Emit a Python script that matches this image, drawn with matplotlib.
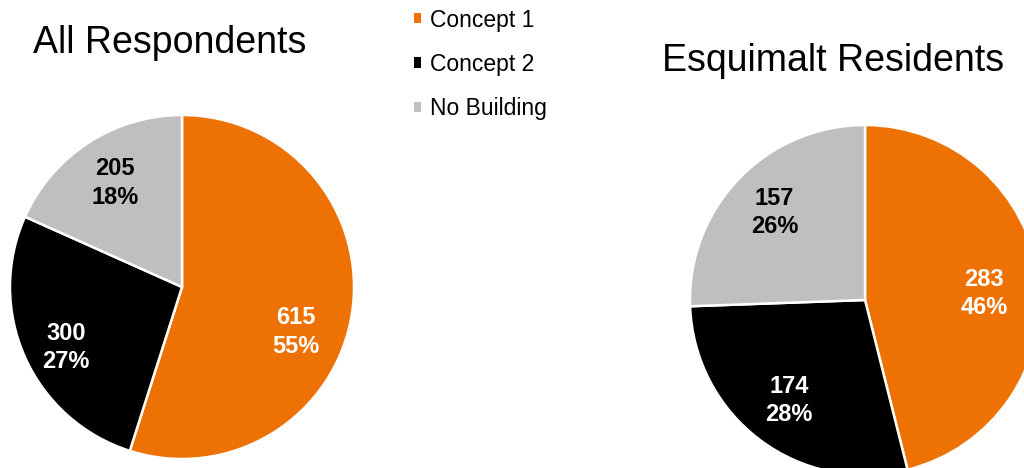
import numpy as np
import matplotlib.pyplot as plt

plt.rcParams['font.family'] = ['Liberation Sans', 'DejaVu Sans']

categories = ['Concept 1', 'Concept 2', 'No Building']
all_resp = [615, 300, 205]
esq_resp = [283, 174, 157]
colors = ['#EE7203', '#000000', '#BFBFBF']
label_colors = ['white', 'white', 'black']

fig = plt.figure(figsize=(10.24, 4.68), dpi=100)
ax = fig.add_axes([0, 0, 1, 1])


def draw_pie(values, center, radius, angle_fix=None):
    wedges, _ = ax.pie(values, colors=colors, startangle=90, counterclock=False,
                       center=center, radius=radius, frame=True,
                       wedgeprops=dict(edgecolor='white', linewidth=1.8))
    total = sum(values)
    for i, (w, v) in enumerate(zip(wedges, values)):
        ang = (w.theta1 + w.theta2) / 2
        dist = 0.72
        if angle_fix and i in angle_fix:
            ang, dist = angle_fix[i]
        x = center[0] + dist * radius * np.cos(np.radians(ang))
        y = center[1] + dist * radius * np.sin(np.radians(ang))
        ax.text(x, y, f'{v}\n{v / total:.0%}', ha='center', va='center',
                fontsize=17, fontweight='bold', color=label_colors[i],
                linespacing=1.3)
    return wedges


wedges = draw_pie(all_resp, (182, 181), 172,
                  angle_fix={0: (-21.7, 0.71), 1: (-152.5, 0.76)})
draw_pie(esq_resp, (865, 168), 175, angle_fix={0: (3, 0.68)})

ax.text(170, 425, 'All Respondents', ha='center', va='center', fontsize=27)
ax.text(833, 407, 'Esquimalt Residents', ha='center', va='center', fontsize=27)

ax.legend(wedges, categories, loc='upper left', bbox_to_anchor=(393 / 1024, 1.0 + 12 / 468),
          frameon=False, fontsize=16.5, handlelength=0.3, handleheight=0.3,
          handletextpad=0.4, labelspacing=0.92)
for h in ax.get_legend().legend_handles:
    h.set_edgecolor('none')

ax.set_xlim(0, 1024)
ax.set_ylim(0, 468)
ax.set_aspect('equal')
ax.axis('off')

fig.savefig('out.png', dpi=100)
